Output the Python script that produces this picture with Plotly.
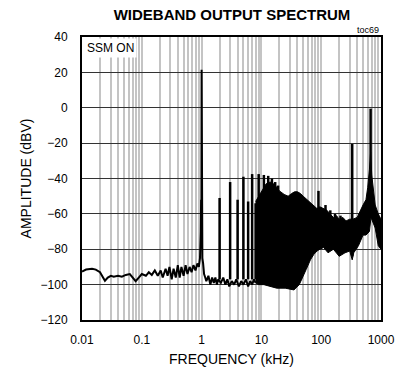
import plotly.graph_objects as go

# low-frequency noise floor, 1 kHz fundamental and floor up to the dense band (kHz, dBV)
floor_freq = [0.01, 0.0117, 0.0147, 0.017, 0.02, 0.0224, 0.0242, 0.027, 0.0304, 0.034,
              0.04, 0.0464, 0.054, 0.063, 0.071, 0.079, 0.089, 0.1, 0.117, 0.131,
              0.147, 0.165, 0.185, 0.207, 0.224, 0.25, 0.27, 0.29, 0.316, 0.34,
              0.37, 0.4, 0.43, 0.46, 0.5, 0.54, 0.58, 0.63, 0.68, 0.73,
              0.79, 0.85, 0.9, 0.94, 0.97, 0.98, 0.99, 1.0, 1.01, 1.03,
              1.06, 1.1, 1.15, 1.2, 1.3, 1.4, 1.5, 1.6, 1.7, 1.8,
              1.9, 2.1, 2.3, 2.5, 2.7, 2.9, 3.2, 3.5, 3.8, 4.2,
              4.6, 5.0, 5.5, 6.0, 6.5, 7.0, 7.5, 8.0]
floor_db = [-92.6, -91.5, -91, -91.5, -93, -96, -97.8, -96, -95, -95.5,
            -95, -95.5, -94.5, -94, -96, -98, -96, -94, -95, -93,
            -94.5, -92, -95, -92, -96, -91, -95, -90, -97, -91,
            -96, -89, -96, -90, -95, -89, -94, -90, -93, -89,
            -92, -88, -90, -85, -70, -52, -75, 21.5, -70, -85,
            -88, -94, -96, -98, -95, -100, -96, -99, -96, -100,
            -97, -99, -96, -100, -97, -101, -98, -100, -97, -101,
            -98, -100, -97, -101, -98, -100, -97, -99]

# harmonic spikes
harm_freq = [2, 3, 4, 5, 6, 7, 8, 9, 11, 13, 15, 17, 19]
harm_db = [-51, -42, -52, -39, -53, -37.5, -54, -37.5, -38, -38.5, -40, -42, -44]
harm_base = -97

# dense band envelopes
upper_freq = [8.0, 9, 10, 12, 14, 16, 18, 20, 24, 28, 32, 36, 40, 45, 50, 58, 66, 75,
              85, 95, 110, 125, 140, 160, 180, 200, 230, 260, 300, 340, 400, 450, 500,
              560, 600, 640, 670, 700, 750, 800, 900, 1000]
upper_db = [-53, -50, -47, -43, -42, -43, -45, -47, -49, -50, -48.5, -47.5, -47.5, -48.5,
            -50, -52, -54, -55.5, -57, -56, -57, -58, -60, -62, -61, -63, -62, -64, -63,
            -63, -62, -58, -55, -52, -45, -35, -25, -38, -48, -55, -60, -63]
lower_freq = [1000, 900, 800, 730, 680, 640, 560, 500, 420, 350, 330, 300, 250, 200,
              160, 130, 110, 95, 85, 75, 66, 56, 48, 43, 35, 25, 18, 14, 11, 9, 8.0]
lower_db = [-80, -78, -68, -65, -62, -70, -72, -72, -78, -82, -86, -81, -82, -84,
            -80, -82, -79, -80, -81, -83, -86, -91.5, -97, -100, -103, -102, -102, -101,
            -100, -100, -99]

# spurs above the band
spur_freq = [90, 118, 142, 170, 210, 330, 670]
spur_db = [-47, -55, -58, -60, -61, -20.5, -0.5]
spur_base = [-75, -78, -78, -80, -80, -84, -60]

x_ticks = [m * 10 ** e for e in range(-2, 3) for m in range(1, 10)] + [1000]
x_labels = {0.01: "0.01", 0.1: "0.1", 1: "1", 10: "10", 100: "100", 1000: "1000"}


def spikes(freqs, tops, bases):
    xs, ys = [], []
    for f, t, b in zip(freqs, tops, bases):
        xs += [f, f, None]
        ys += [b, t, None]
    return xs, ys


fig = go.Figure()

fig.add_trace(go.Scatter(x=upper_freq + lower_freq, y=upper_db + lower_db, mode="lines",
                         fill="toself", fillcolor="black",
                         line=dict(color="black", width=1)))
fig.add_trace(go.Scatter(x=floor_freq, y=floor_db, mode="lines",
                         line=dict(color="black", width=2)))
hx, hy = spikes(harm_freq, harm_db, [harm_base] * len(harm_freq))
fig.add_trace(go.Scatter(x=hx, y=hy, mode="lines", line=dict(color="black", width=2.5)))
sx, sy = spikes(spur_freq, spur_db, spur_base)
fig.add_trace(go.Scatter(x=sx, y=sy, mode="lines", line=dict(color="black", width=2.5)))

font = "Liberation Sans, Arial, sans-serif"

fig.update_layout(
    width=398, height=375,
    margin=dict(l=82, r=17, t=37, b=55),
    plot_bgcolor="white", paper_bgcolor="white",
    showlegend=False,
    font=dict(family=font, size=12, color="black"),
    title=dict(text="<b>WIDEBAND OUTPUT SPECTRUM</b>", x=0.583, xanchor="center",
               y=0.96, yanchor="middle",
               font=dict(family=font, size=15)),
)
fig.update_xaxes(
    type="log", range=[-2, 3], automargin=False,
    tickvals=x_ticks, ticktext=[x_labels.get(v, "") for v in x_ticks],
    showgrid=True, gridcolor="#c4c4c4", gridwidth=1.5,
    ticks="outside", ticklen=8, tickcolor="rgba(0,0,0,0)",
    showline=True, linecolor="black", linewidth=2, mirror=True,
    title=dict(text="FREQUENCY (kHz)", standoff=8),
    zeroline=False,
)
fig.update_yaxes(
    range=[-120, 40], dtick=20, automargin=False,
    showgrid=True, gridcolor="#333333", gridwidth=1,
    ticks="outside", ticklen=10, tickcolor="rgba(0,0,0,0)",
    showline=True, linecolor="black", linewidth=2, mirror=True,
    title=dict(text="AMPLITUDE (dBV)", standoff=6),
    zeroline=False,
)
fig.add_annotation(text="SSM ON", xref="paper", yref="paper", x=0.0, y=1.0,
                   xanchor="left", yanchor="top", showarrow=False,
                   bgcolor="white", borderpad=2, xshift=2, yshift=-1,
                   font=dict(size=12))
fig.add_annotation(text="toc69", xref="paper", yref="paper", x=1.0, y=1.0,
                   xanchor="right", yanchor="bottom", showarrow=False,
                   font=dict(size=9))

# drop the browser's default 8px body margin so the figure fills the window
fig.write_html("out.html", config={"displayModeBar": False},
               post_script="document.body.style.margin = '0';")
